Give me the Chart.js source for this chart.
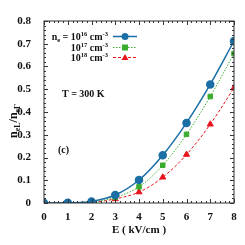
<!DOCTYPE html>
<html>
<head>
<meta charset="utf-8">
<script src="https://cdn.jsdelivr.net/npm/chart.js@4.4.1/dist/chart.umd.min.js"></script>
<style>
  html, body { margin: 0; padding: 0; background: #fff; }
  #wrap { width: 245px; height: 245px; }
</style>
</head>
<body>
<div id="wrap"><canvas id="myChart" width="245" height="245"></canvas></div>
<script>
const fieldE = [0, 1, 2, 3, 4, 5, 6, 7, 8];
const ratio16 = [0, 0.001, 0.007, 0.035, 0.101, 0.21, 0.352, 0.521, 0.712];
const ratio17 = [0, 0.0005, 0.004, 0.025, 0.071, 0.166, 0.302, 0.468, 0.657];
const ratio18 = [0, 0.0003, 0.003, 0.018, 0.048, 0.113, 0.213, 0.346, 0.506];
const seriesExp = ['16', '17', '18'];
const yTicks = [0, 0.1, 0.2, 0.3, 0.4, 0.5, 0.6, 0.7, 0.8];

const SERIF = '"Liberation Serif", "DejaVu Serif", serif';
const BLUE = '#1a6fa6', GREEN = '#3aac2e', RED = '#e8131c';

function pts(ys) { return fieldE.map((x, i) => ({ x: x, y: ys[i] })); }

// inward ticks on all four sides + annotations
const decor = {
  id: 'decor',
  afterDraw(chart) {
    const ctx = chart.ctx, a = chart.chartArea;
    const xs = chart.scales.x, ys = chart.scales.y;
    ctx.save();
    ctx.strokeStyle = '#333';
    ctx.lineWidth = 1;
    ctx.strokeRect(a.left, a.top, a.right - a.left, a.bottom - a.top);
    ctx.beginPath();
    for (let v = 0; v <= 8.0001; v += 0.2) {
      const major = Math.abs(v - Math.round(v)) < 1e-6;
      const L = major ? 4 : 2;
      const px = Math.round(xs.getPixelForValue(v)) + 0.5;
      ctx.moveTo(px, a.bottom); ctx.lineTo(px, a.bottom - L);
      ctx.moveTo(px, a.top); ctx.lineTo(px, a.top + L);
    }
    for (let v = 0; v <= 0.8001; v += 0.02) {
      const major = Math.abs(v * 10 - Math.round(v * 10)) < 1e-6;
      const L = major ? 4 : 2;
      const py = Math.round(ys.getPixelForValue(v)) + 0.5;
      ctx.moveTo(a.left, py); ctx.lineTo(a.left + L, py);
      ctx.moveTo(a.right, py); ctx.lineTo(a.right - L, py);
    }
    ctx.stroke();

    ctx.fillStyle = '#111';
    ctx.textBaseline = 'alphabetic';
    ctx.font = 'bold 10px ' + SERIF;
    ctx.textAlign = 'left';
    ctx.fillText('T = 300 K', 62, 97);
    ctx.fillText('(c)', 58, 153);

    ctx.textAlign = 'center';
    ctx.font = 'bold 11px ' + SERIF;
    ctx.fillText('E ( kV/cm )', (a.left + a.right) / 2, 233);

    // y title: n_eL / n_eΓ rotated
    ctx.save();
    ctx.translate(17, 116);
    ctx.rotate(-Math.PI / 2);
    ctx.textAlign = 'left';
    let x = -22;
    const big = 'bold 12px ' + SERIF, sm = 'bold 8px ' + SERIF;
    const part = (t, f, dy) => { ctx.font = f; ctx.fillText(t, x, dy); x += ctx.measureText(t).width; };
    part('n', big, 0); part('eL', sm, 3); part('/n', big, 0); part('eΓ', sm, 3);
    ctx.restore();

    // legend
    const rows = [36, 47, 57];
    const colors = [BLUE, GREEN, RED];
    const dashes = [[], [1.5, 1.5], [3, 2]];
    const shapes = ['circle', 'rect', 'triangle'];
    rows.forEach((ry, i) => {
      ctx.fillStyle = '#111';
      let segs = [];
      if (i === 0) segs.push(['n', 10, 0], ['e', 6.5, 2], [' = 10', 10, 0]);
      else segs.push(['10', 10, 0]);
      segs.push([seriesExp[i], 6.5, -4], [' cm', 10, 0], ['-3', 6.5, -4]);
      let w = 0;
      segs.forEach(s => { ctx.font = 'bold ' + s[1] + 'px ' + SERIF; w += ctx.measureText(s[0]).width; });
      let tx = 108 - w;
      ctx.textAlign = 'left';
      segs.forEach(s => { ctx.font = 'bold ' + s[1] + 'px ' + SERIF; ctx.fillText(s[0], tx, ry + 4 + s[2]); tx += ctx.measureText(s[0]).width; });
      ctx.strokeStyle = colors[i];
      ctx.lineWidth = i === 0 ? 1.5 : 1;
      ctx.setLineDash(dashes[i]);
      ctx.beginPath(); ctx.moveTo(113, ry + 0.5); ctx.lineTo(137, ry + 0.5); ctx.stroke();
      ctx.setLineDash([]);
      ctx.fillStyle = colors[i];
      ctx.beginPath();
      if (shapes[i] === 'circle') ctx.arc(125, ry + 0.5, 3.5, 0, Math.PI * 2);
      else if (shapes[i] === 'rect') ctx.rect(122, ry - 2.5, 6, 6);
      else { ctx.moveTo(125, ry - 3); ctx.lineTo(128.5, ry + 3); ctx.lineTo(121.5, ry + 3); ctx.closePath(); }
      ctx.fill();
    });
    ctx.restore();
  }
};

new Chart(document.getElementById('myChart').getContext('2d'), {
  type: 'line',
  data: {
    datasets: [
      { label: '16', data: pts(ratio16), borderColor: BLUE, backgroundColor: BLUE, borderWidth: 1.5,
        pointStyle: 'circle', pointRadius: 3.5, tension: 0.35 },
      { label: '17', data: pts(ratio17), borderColor: GREEN, backgroundColor: GREEN, borderWidth: 1,
        borderDash: [1.5, 1.5], pointStyle: 'rect', pointRadius: 3.2, tension: 0.35 },
      { label: '18', data: pts(ratio18), borderColor: RED, backgroundColor: RED, borderWidth: 1,
        borderDash: [3, 2], pointStyle: 'triangle', pointRadius: 3.5, tension: 0.35 }
    ]
  },
  options: {
    responsive: false,
    animation: false,
    layout: { padding: { top: 21, right: 11, left: 0, bottom: 0 } },
    plugins: { legend: { display: false }, tooltip: { enabled: false } },
    scales: {
      x: {
        type: 'linear', min: 0, max: 8,
        grid: { display: false },
        border: { display: false },
        ticks: { stepSize: 1, color: '#111', padding: 0, font: { family: SERIF, weight: 'bold', size: 11 } },
        afterFit(s) { s.height = 42; }
      },
      y: {
        type: 'linear', min: 0, max: 0.8,
        grid: { display: false },
        border: { display: false },
        afterBuildTicks(s) { s.ticks = yTicks.map(v => ({ value: v })); },
        ticks: { color: '#111', padding: 5, font: { family: SERIF, weight: 'bold', size: 11 },
          callback: v => v === 0 ? '0' : v.toFixed(1) },
        afterFit(s) { s.width = 44; }
      }
    }
  },
  plugins: [decor]
});
</script>
</body>
</html>
